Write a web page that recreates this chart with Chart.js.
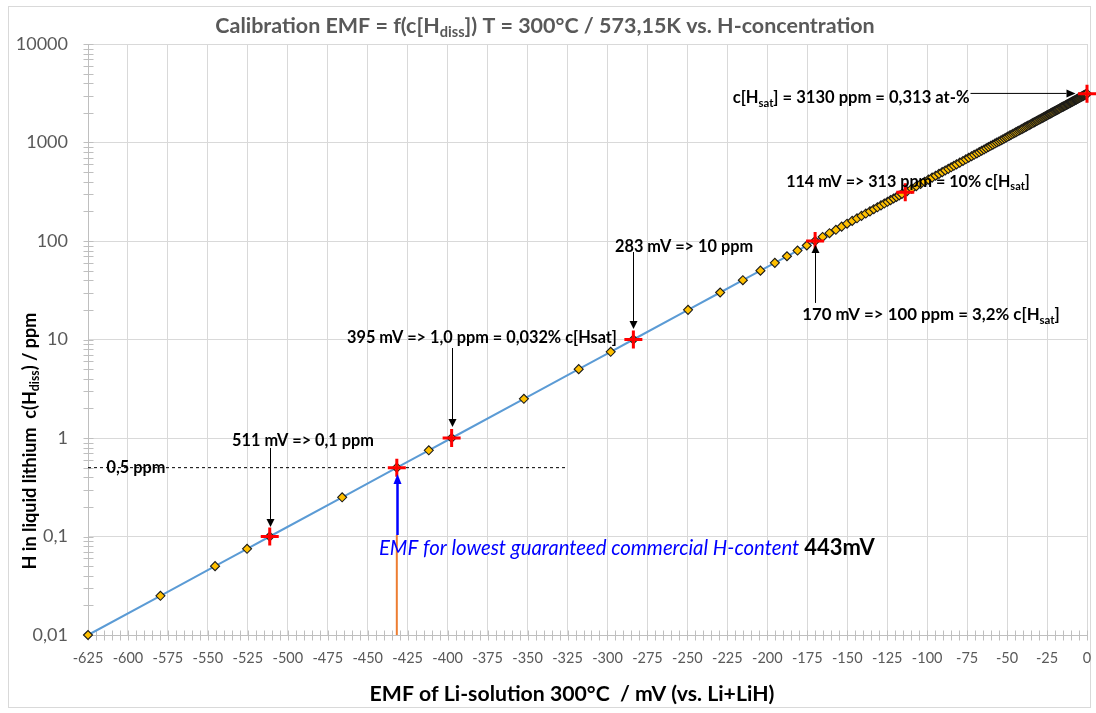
<!DOCTYPE html>
<html><head><meta charset="utf-8">
<script src="https://cdn.jsdelivr.net/npm/chart.js@4.4.1/dist/chart.umd.min.js"></script>
<style>html,body{margin:0;padding:0;background:#fff}canvas{display:block}</style>
</head><body>
<canvas id="c" width="1096" height="713"></canvas>
<script>
// ---- data ----
const markerPpm = [0.01,0.025,0.05,0.075,0.1,0.25,0.5,0.75,1,2.5,5,7.5,10,20,30,40,50,60,70,80,90,100,
 110,120,130,140,150,160,170,180,190,200,210,220,230,240,250,260,270,280,290,300,
 320,340,360,380,400,420,440,460,480,500,520,540,560,580,
 600,625,650,675,700,725,750,775,800,825,
 850,875,900,925,950,975,1000,1025,1050,1075,
 1100,1125,1150,1175,1200,1225,1250,1275,1300,1325,
 1350,1375,1400,1425,1450,1475,1500,1525,1550,1575,
 1600,1625,1650,1675,1700,1725,1750,1775,1800,1825,
 1850,1875,1900,1925,1950,1975,2000,2025,2050,2075,
 2100,2125,2150,2175,2200,2225,2250,2275,2300,2325,
 2350,2375,2400,2425,2450,2475,2500,2525,2550,2575,
 2600,2625,2650,2675,2700,2725,2750,2775,2800,2825,
 2850,2875,2900,2925,2950,2975,3000,3025,3050,3075,
 3100,3130];
const markerEmf = [-625.0,-579.7,-545.5,-525.5,-511.3,-466.0,-431.8,-411.8,-397.5,-352.3,-318.0,-298.0,-283.8,-249.6,-229.5,-215.3,-204.3,-195.3,-187.7,-181.1,-175.3,-170.1,
 -165.4,-161.1,-157.1,-153.5,-150.1,-146.9,-143.9,-141.1,-138.4,-135.8,-133.4,-131.1,-128.9,-126.8,-124.8,-122.9,-121.0,-119.2,-117.5,-115.8,
 -112.6,-109.6,-106.8,-104.1,-101.6,-99.2,-96.9,-94.7,-92.6,-90.6,-88.7,-86.8,-85.0,-83.3,
 -81.6,-79.6,-77.6,-75.8,-74.0,-72.2,-70.6,-68.9,-67.4,-65.9,
 -64.4,-63.0,-61.6,-60.2,-58.9,-57.6,-56.4,-55.1,-53.9,-52.8,
 -51.6,-50.5,-49.5,-48.4,-47.4,-46.3,-45.3,-44.4,-43.4,-42.5,
 -41.5,-40.6,-39.7,-38.9,-38.0,-37.2,-36.3,-35.5,-34.7,-33.9,
 -33.1,-32.4,-31.6,-30.9,-30.1,-29.4,-28.7,-28.0,-27.3,-26.6,
 -26.0,-25.3,-24.7,-24.0,-23.4,-22.7,-22.1,-21.5,-20.9,-20.3,
 -19.7,-19.1,-18.5,-18.0,-17.4,-16.9,-16.3,-15.8,-15.2,-14.7,
 -14.2,-13.6,-13.1,-12.6,-12.1,-11.6,-11.1,-10.6,-10.1,-9.6,
 -9.2,-8.7,-8.2,-7.8,-7.3,-6.8,-6.4,-5.9,-5.5,-5.1,
 -4.6,-4.2,-3.8,-3.3,-2.9,-2.5,-2.1,-1.7,-1.3,-0.9,
 -0.5,0.0];
const crossEmf = [-511.3,-431.8,-397.5,-283.8,-170.1,-113.7,0];
const crossPpm = [0.1,0.5,1,10,100,313,3130];
const refEmf = [-625,-325];
const refPpm = [0.5,0.5];
const guarEmf = [-431.8,-431.8];
const guarPpm = [0.01,0.1035];
const xTicks = [-625,-600,-575,-550,-525,-500,-475,-450,-425,-400,-375,-350,-325,-300,-275,-250,-225,-200,-175,-150,-125,-100,-75,-50,-25,0];
const xTickLabels = ['-625','-600','-575','-550','-525','-500','-475','-450','-425','-400','-375','-350','-325','-300','-275','-250','-225','-200','-175','-150','-125','-100','-75','-50','-25','0'];
const yTicks = [0.01,0.1,1,10,100,1000,10000];
const yTickLabels = ['0,01','0,1','1','10','100','1000','10000'];

// ---- annotations (data coordinates) ----
const notes = [
 {parts:[['511 mV => 0,1 ppm']], x:-490.5, y:0.933, w:142},
 {parts:[['395 mV => 1,0 ppm = 0,032% c[Hsat]']], x:-378.5, y:10.35, w:270},
 {parts:[['283 mV => 10 ppm']], x:-252.1, y:86.9, w:138},
 {parts:[['170 mV => 100 ppm = 3,2% c[H'],['sat',1],[']']], x:-97.6, y:17.7, w:258},
 {parts:[['114 mV => 313 ppm = 10% c[H'],['sat',1],[']']], x:-112, y:397, w:244},
 {parts:[['c[H'],['sat',1],['] = 3130 ppm = 0,313 at-%']], x:-147.6, y:2830, w:237}
];
const arrows = [
 {x0:-511.3,y0:0.792,x1:-511.3,y1:0.125,c:'#000',lw:1,hl:8,hw:8},
 {x0:-397.5,y0:8.2,x1:-397.5,y1:1.29,c:'#000',lw:1,hl:8,hw:8},
 {x0:-283.8,y0:77.3,x1:-283.8,y1:12.8,c:'#000',lw:1,hl:8,hw:8},
 {x0:-170.1,y0:23.5,x1:-170.1,y1:91,c:'#000',lw:1,hl:8,hw:8},
 {x0:-73.2,y0:3150,x1:-7.5,y1:3150,c:'#000',lw:1,hl:9,hw:8},
 {x0:-431.8,y0:0.1035,x1:-431.8,y1:0.431,c:'#0000FF',lw:2.5,hl:10,hw:8}
];

const FONT = 'Lato, "Open Sans", "DejaVu Sans", sans-serif';
function fontStr(size, weight, style){ return `${style||'normal'} ${weight||'normal'} ${size}px ${FONT}`; }
function richWidth(ctx, parts, size, weight, style){
  let w = 0;
  for (const [t, sub] of parts){ ctx.font = fontStr(sub ? size*0.68 : size, weight, style); w += ctx.measureText(t).width; }
  return w;
}
function fitSize(ctx, parts, weight, style, target){ return 100*target/richWidth(ctx, parts, 100, weight, style); }
function drawRich(ctx, parts, x, y, size, weight, style, color, align){
  const w = richWidth(ctx, parts, size, weight, style);
  let cx = align === 'left' ? x : x - w/2;
  ctx.textBaseline = 'middle'; ctx.textAlign = 'left'; ctx.fillStyle = color;
  for (const [t, sub] of parts){
    const s = sub ? size*0.68 : size;
    ctx.font = fontStr(s, weight, style);
    ctx.fillText(t, cx, sub ? y + size*0.3 : y);
    cx += ctx.measureText(t).width;
  }
  return w;
}
function drawArrow(ctx, x0,y0,x1,y1,color,lw,hl,hw){
  const dx=x1-x0, dy=y1-y0, L=Math.hypot(dx,dy), ux=dx/L, uy=dy/L;
  const bx=x1-ux*hl, by=y1-uy*hl;
  ctx.strokeStyle=color; ctx.lineWidth=lw; ctx.setLineDash([]);
  ctx.beginPath(); ctx.moveTo(x0,y0); ctx.lineTo(bx,by); ctx.stroke();
  ctx.fillStyle=color; ctx.beginPath(); ctx.moveTo(x1,y1);
  ctx.lineTo(bx - uy*hw/2, by + ux*hw/2); ctx.lineTo(bx + uy*hw/2, by - ux*hw/2); ctx.closePath(); ctx.fill();
}

const overlay = {
  id:'overlay',
  beforeDraw(chart){
    const ctx = chart.ctx; ctx.save();
    ctx.fillStyle='#fff'; ctx.fillRect(0,0,chart.width,chart.height);
    ctx.strokeStyle='#d9d9d9'; ctx.lineWidth=1; ctx.strokeRect(8.5,6.5,1082,701);
    ctx.restore();
  },
  beforeDatasetsDraw(chart){
    const ctx = chart.ctx, xs = chart.scales.x, ys = chart.scales.y;
    ctx.save();
    ctx.strokeStyle='#bfbfbf'; ctx.lineWidth=1;
    const L = Math.round(xs.left) + 0.5;
    for (let e=-2; e<4; e++) for (let m=1; m<10; m++){
      const v = m*Math.pow(10,e);
      const py = Math.round(ys.getPixelForValue(v)) + 0.5;
      ctx.beginPath(); ctx.moveTo(L-5,py); ctx.lineTo(L+5,py); ctx.stroke();
    }
    const py0 = Math.round(ys.getPixelForValue(10000)) + 0.5;
    ctx.beginPath(); ctx.moveTo(L-5,py0); ctx.lineTo(L+5,py0); ctx.stroke();
    const B = Math.round(ys.bottom) + 0.5;
    for (let v=-625; v<=0; v+=5){
      const p = Math.round(xs.getPixelForValue(v)) + 0.5;
      ctx.beginPath(); ctx.moveTo(p,B-5); ctx.lineTo(p,B+5); ctx.stroke();
    }
    const parts = [['0,5 ppm']];
    const s = fitSize(ctx, parts, 'bold', 'normal', 59);
    drawRich(ctx, parts, xs.getPixelForValue(-595), ys.getPixelForValue(0.5), s, 'bold', 'normal', '#000', 'center');
    ctx.restore();
  },
  afterDatasetsDraw(chart){
    const ctx = chart.ctx, xs = chart.scales.x, ys = chart.scales.y;
    ctx.save();
    for (const a of arrows){
      drawArrow(ctx, Math.round(xs.getPixelForValue(a.x0))+0.5, ys.getPixelForValue(a.y0),
        Math.round(xs.getPixelForValue(a.x1))+0.5, ys.getPixelForValue(a.y1), a.c, a.lw, a.hl, a.hw);
    }
    for (const n of notes){
      const s = fitSize(ctx, n.parts, 'bold', 'normal', n.w);
      drawRich(ctx, n.parts, xs.getPixelForValue(n.x), ys.getPixelForValue(n.y), s, 'bold', 'normal', '#000', 'center');
    }
    const p1 = [['EMF for lowest guaranteed commercial H-content']];
    const p2 = [['443mV']];
    const gap = 5, total = 496;
    const w1u = richWidth(ctx, p1, 100, 'normal', 'italic');
    const w2u = richWidth(ctx, p2, 108, 'bold', 'normal');
    const k = (total - gap) / (w1u + w2u);
    const s1 = 100*k, s2 = 108*k;
    const tx = xs.getPixelForValue(-443), ty = ys.getPixelForValue(0.0764);
    const w1 = drawRich(ctx, p1, tx, ty, s1, 'normal', 'italic', '#0000FF', 'left');
    drawRich(ctx, p2, tx + w1 + gap, ty, s2, 'bold', 'normal', '#000', 'left');
    ctx.restore();
  },
  afterDraw(chart){
    const ctx = chart.ctx; ctx.save();
    const tp = [['Calibration EMF = f(c[H'],['diss',1],[']) T = 300°C / 573,15K vs. H-concentration']];
    drawRich(ctx, tp, 545, 26, fitSize(ctx, tp, 'bold', 'normal', 660), 'bold', 'normal', '#595959', 'center');
    const xp = [['EMF of Li-solution 300°C  / mV (vs. Li+LiH)']];
    drawRich(ctx, xp, 572, 694, fitSize(ctx, xp, 'bold', 'normal', 405), 'bold', 'normal', '#000', 'center');
    const yp = [['H in liquid lithium  c(H'],['diss',1],[') / ppm']];
    ctx.translate(30, 441); ctx.rotate(-Math.PI/2);
    drawRich(ctx, yp, 0, 0, fitSize(ctx, yp, 'bold', 'normal', 257), 'bold', 'normal', '#000', 'center');
    ctx.restore();
  }
};

Chart.defaults.font.family = FONT;
new Chart(document.getElementById('c'), {
  type:'scatter',
  data:{ datasets:[
    {data: crossEmf.map((x,i)=>({x, y:crossPpm[i]})), showLine:false, pointStyle:'cross', pointRadius:9, pointBorderWidth:3,
     borderColor:'#FF0000', backgroundColor:'#FF0000', clip:false},
    {data: markerEmf.map((x,i)=>({x, y:markerPpm[i]})), showLine:true, borderColor:'#5B9BD5', borderWidth:2,
     pointStyle:'rectRot', pointRadius:4.5, pointBackgroundColor:'#FFC000', pointBorderColor:'#1a1a1a', pointBorderWidth:1.1, clip:false},
    {data: refEmf.map((x,i)=>({x, y:refPpm[i]})), showLine:true, borderColor:'#000', borderWidth:1, borderDash:[3,3], pointRadius:0},
    {data: guarEmf.map((x,i)=>({x, y:guarPpm[i]})), showLine:true, borderColor:'#ED7D31', borderWidth:2, pointRadius:0}
  ]},
  options:{
    responsive:false, animation:false, devicePixelRatio:1, events:[],
    layout:{autoPadding:false, padding:{left:0,right:9,top:44,bottom:0}},
    plugins:{legend:{display:false}, tooltip:{enabled:false}, title:{display:false}},
    scales:{
      x:{type:'linear', min:-625, max:0,
        afterBuildTicks:s=>{ s.ticks = xTicks.map(v=>({value:v})); },
        afterFit:s=>{ s.height = 78; s.paddingLeft = 0; s.paddingRight = 0; },
        ticks:{autoSkip:false, maxRotation:0, minRotation:0, color:'#595959', font:{size:14.5}, padding:15,
          callback:(v,i)=>xTickLabels[i]},
        grid:{color:'#d9d9d9', drawTicks:false, lineWidth:1},
        border:{color:'#bfbfbf', width:1}},
      y:{type:'logarithmic', min:0.01, max:10000,
        afterBuildTicks:s=>{ s.ticks = yTicks.map(v=>({value:v})); },
        afterFit:s=>{ s.width = 88; s.paddingTop = 0; s.paddingBottom = 0; },
        ticks:{autoSkip:false, color:'#595959', font:{size:18}, padding:20,
          callback:(v,i)=>yTickLabels[i]},
        grid:{color:'#d9d9d9', drawTicks:false, lineWidth:1},
        border:{color:'#bfbfbf', width:1}}
    }
  },
  plugins:[overlay]
});
</script>
</body></html>
